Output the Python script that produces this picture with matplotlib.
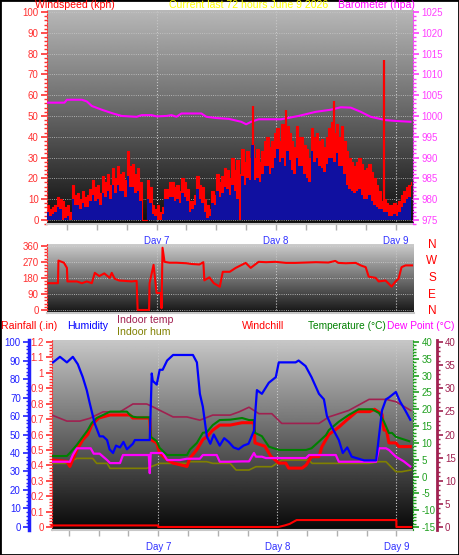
import numpy as np
import matplotlib.pyplot as plt
from matplotlib.patches import Rectangle
from matplotlib.ticker import MultipleLocator, FormatStrFormatter

plt.rcParams['font.family'] = ['Liberation Sans', 'DejaVu Sans']

# ---- data (time in hours, 0 = start of Day 7) ----
day_ticks = [0, 24, 48]
day_labels = ['Day 7', 'Day 8', 'Day 9']

wind_hours = np.arange(-22, 51.01, 0.5)
gust_kph = [7, 5, 6, 7, 11, 10, 9, 6, 7, 4, 17, 12, 13, 10, 14, 11, 12, 15, 19, 16,
            17, 13, 21, 18, 22, 17, 25, 20, 26, 22, 23, 19, 33, 26, 27, 22, 25, 18, 0, 0,
            19, 16, 7, 5, 7, 4, 6, 15, 15, 18, 18, 16, 17, 14, 20, 18, 15, 9, 9, 12,
            21, 17, 16, 10, 7, 5, 14, 12, 22, 18, 21, 25, 24, 20, 30, 24, 29, 22, 34, 28,
            33, 30, 36, 30, 34, 28, 33, 38, 40, 35, 38, 42, 44, 38, 46, 40, 45, 42, 38, 35,
            45, 40, 40, 36, 34, 30, 44, 40, 42, 38, 39, 35, 40, 44, 47, 42, 46, 40, 45, 38,
            33, 30, 28, 26, 28, 30, 27, 24, 25, 27, 23, 20, 17, 14, 9, 10, 8, 7, 7, 8,
            7, 9, 12, 14, 16, 17, 18]
avg_kph = [4, 2, 3, 4, 6, 5, 0, 1, 2, 0, 10, 7, 7, 5, 8, 6, 6, 9, 12, 9,
           10, 7, 13, 11, 14, 10, 17, 13, 17, 14, 14, 11, 21, 16, 16, 13, 14, 9, 0, 0,
           10, 8, 3, 2, 0, 0, 3, 10, 10, 11, 11, 9, 10, 8, 13, 11, 9, 4, 5, 7,
           15, 10, 8, 4, 1, 2, 8, 7, 14, 11, 13, 16, 15, 12, 17, 14, 10, 0, 21, 17,
           20, 19, 36, 19, 20, 18, 22, 26, 26, 22, 25, 30, 34, 28, 30, 26, 33, 29, 24, 22,
           30, 26, 26, 22, 20, 18, 33, 28, 30, 26, 25, 23, 27, 30, 30, 28, 32, 26, 26, 22,
           17, 15, 14, 13, 14, 15, 12, 10, 10, 12, 9, 7, 6, 5, 5, 4, 4, 2, 2, 3,
           2, 4, 6, 8, 10, 11, 12]
spike_t = [19.3, 25.9, 35.7, 45.6]
spike_base_kph = [36, 33, 30, 4]
spike_kph = [55, 53, 57, 77]

baro_t = [-22, -18.5, -18, -15, -14, -13, -11, -9, -7, -4, -3, -1, 0, 2, 3, 4, 5, 9,
          10, 12, 14.5, 17, 18, 19, 20.5, 25, 28.5, 32, 35, 37, 39, 41, 43, 46, 48, 51]
baro_hpa = [1003.2, 1003.2, 1003.9, 1003.9, 1003.5, 1002.4, 1001.5, 1000.7, 1000.0, 999.8,
            1000.2, 1000.2, 999.9, 1000.0, 1000.2, 999.8, 1000.6, 1000.6, 999.8, 999.5,
            999.3, 998.6, 998.0, 998.6, 999.2, 999.2, 1000.0, 1001.0, 1001.5, 1002.1,
            1002.0, 1001.0, 999.8, 999.0, 998.8, 998.6]

dir_t = [-21.8, -19.8, -19.7, -18.6, -18.0, -17.9, -16, -15, -14, -13, -12.4, -11.5, -10.5,
         -9.4, -9.0, -8.4, -7.5, -6.4, -5, -4.0, -3.8, -1.5, -1.4, -0.6, 0.0, 0.9, 1.0, 1.2,
         1.6, 2.6, 4, 6, 7, 8.6, 9.4, 9.6, 10.6, 11.5, 12.7, 13.3, 14.7, 15.9, 17.9, 18.9,
         20.5, 22, 23.9, 26, 27.9, 30, 32, 34.5, 35.9, 36.5, 38, 40, 41, 42, 42.6, 44, 44.6,
         46, 47.2, 48, 48.6, 49.2, 50, 51.3]
dir_deg = [150, 150, 277, 265, 236, 160, 160, 150, 160, 150, 208, 190, 205,
           180, 208, 175, 165, 163, 160, 163, 0, 0, 150, 253, 95, 95, 10, 349,
           270, 265, 265, 262, 258, 255, 268, 166, 183, 150, 130, 214, 214, 236, 264, 236,
           270, 268, 270, 264, 264, 266, 268, 266, 275, 264, 262, 264, 250, 240, 187, 180, 160,
           165, 131, 160, 175, 240, 250, 250]

hum_t = [-21.2, -19.8, -18.4, -17.2, -16.2, -15.2, -14.4, -13.8, -12.8, -11.8, -11.1, -10.3,
         -9.8, -9.1, -8.5, -7.7, -7.0, -6.3, -5.1, -4.7, -3.5, -2.1, -1.7, -1.3, -1.1, -0.3,
         0.3, 0.9, 1.8, 3.0, 5.0, 7.0, 7.8, 8.4, 9.0, 9.8, 10.5, 11.2, 12.4, 13.3, 14.2, 15.2,
         16.2, 17.2, 18.2, 19.3, 19.9, 20.9, 22.3, 23.7, 24.3, 26.0, 27.7, 28.3, 29.7, 30.9,
         32.4, 33.4, 34.0, 35.0, 36.4, 37.2, 38.1, 39.0, 41.5, 43.9, 44.1, 45.1, 45.9, 46.5,
         47.9, 48.7, 49.8, 50.8]
hum_pct = [89, 92, 89, 92, 88, 81, 74, 67, 56, 49, 49, 47, 42, 40, 44, 43, 46, 42, 45, 47,
           47, 47, 47, 83, 79, 77, 85, 85, 90, 93, 93, 93, 89, 72, 65, 49, 45, 50, 44, 48,
           46, 43, 42, 44, 45, 52, 74, 72, 78, 81, 89, 89, 89, 90, 87, 81, 72, 69, 60, 54,
           47, 40, 43, 38, 36, 36, 40, 63, 69, 70, 73, 68, 63, 58]

temp_t = [-21.2, -18.4, -17.8, -16.4, -15.2, -14.2, -13.4, -12.4, -11.1, -9.7, -6.3, -5.7,
          -5.1, -4.3, -1.7, -1.5, -0.3, 0.3, 1.8, 5.8, 6.4, 7.8, 9.0, 9.8, 11.0, 12.4, 14.5,
          16.9, 18.3, 19.3, 19.5, 20.9, 22.3, 24.3, 29.8, 30.9, 32.4, 33.8, 34.4, 36.4, 38.4,
          40.4, 43.1, 44.5, 45.5, 46.5, 47.1, 47.9, 50.6]
temp_c = [6.1, 6.1, 7.0, 9.4, 11.8, 13.8, 15.9, 17.4, 18.3, 19.3, 19.3, 18.3, 17.8, 17.6,
          17.6, 11.8, 10.5, 8.5, 6.4, 6.4, 8.0, 10.0, 13.0, 13.2, 15.3, 16.8, 16.9, 17.4,
          16.8, 16.8, 13.0, 12.0, 8.9, 7.9, 7.9, 8.4, 10.4, 12.3, 13.8, 16.3, 18.3, 20.0,
          20.0, 18.9, 16.3, 12.9, 13.0, 11.8, 10.5]

wc_t = [-21.2, -18.4, -17.8, -16.4, -15.2, -14.2, -13.4, -12.0, -9.7, -5.7, -5.1, -4.3,
        -1.7, -1.5, -0.3, 0.3, 1.8, 3.0, 5.8, 6.4, 7.8, 9.0, 9.8, 11.0, 12.4, 14.5, 16.9,
        18.3, 19.3, 19.5, 21.5, 22.7, 24.3, 25.7, 26.3, 29.0, 29.8, 30.9, 32.4, 33.0, 34.4,
        36.4, 38.0, 40.0, 42.6, 43.6, 45.1, 45.5, 46.0, 46.5, 47.9, 48.5, 50.8]
wc_c = [4.9, 4.5, 3.0, 7.9, 10.9, 12.5, 15.3, 17.4, 18.3, 18.3, 17.4, 17.4, 17.4, 11.0,
        10.0, 7.0, 5.0, 4.0, 3.0, 5.5, 8.0, 11.0, 11.8, 13.8, 15.3, 15.3, 16.0, 16.0, 16.0,
        10.0, 9.0, 6.0, 4.0, 4.0, 2.5, 2.5, 3.4, 5.9, 5.9, 8.9, 12.5, 14.7, 16.8, 19.3,
        19.3, 20.0, 18.5, 13.8, 13.8, 10.0, 10.0, 8.9, 8.9]

dp_t = [-21.2, -17.8, -17.2, -16.4, -13.6, -13.0, -11.8, -10.3, -9.7, -7.7, -7.1, -5.1,
        -4.3, -1.9, -1.7, -1.5, -1.1, 0.9, 1.8, 4.4, 5.8, 8.4, 9.0, 11.8, 12.4, 14.2, 16.9,
        18.3, 19.3, 19.7, 20.9, 21.7, 29.8, 30.4, 35.8, 36.4, 43.9, 44.5, 45.9, 46.5, 47.9,
        49.5, 50.8]
dp_c = [4.4, 4.4, 6.4, 8.4, 8.4, 6.8, 6.8, 4.9, 4.0, 4.0, 6.4, 6.4, 6.4, 6.4, 1.0, 7.0,
        7.0, 7.0, 4.9, 4.9, 5.3, 5.3, 6.4, 6.4, 4.4, 4.4, 4.5, 4.5, 7.0, 5.9, 5.9, 5.5,
        5.5, 6.4, 6.4, 4.4, 4.4, 8.4, 8.4, 7.9, 5.9, 4.5, 3.0]

in_temp_t = [-21.4, -18.4, -15.8, -13.8, -11.1, -7.7, -5.1, -2.3, -1.1, 3.0, 5.8, 8.4, 11.0,
             14.5, 16.3, 18.3, 20.3, 22.9, 24.9, 32.4, 34.4, 38.4, 42.5, 45.9, 47.9, 50.9]
in_temp_c = [24.2, 22.9, 22.9, 23.5, 24.9, 24.9, 26.6, 26.6, 26.0, 23.8, 23.8, 23.1, 24.2,
             24.2, 24.9, 25.9, 24.5, 24.5, 22.4, 22.4, 23.8, 25.2, 27.6, 27.6, 27.1, 25.2]

in_hum_t = [-21.2, -18.4, -16.4, -13.2, -12.4, -10.3, -9.7, -2.3, 0.3, 5.8, 6.4, 9.8, 11.0,
            14.5, 15.7, 18.3, 19.7, 22.9, 24.9, 30.4, 31.0, 42.5, 44.5, 45.9, 47.9, 49.1, 50.9]
in_hum_pct = [34.4, 34.4, 37.1, 37.1, 34.4, 34.4, 31.7, 31.7, 34.4, 34.4, 35.3, 35.3, 34.4,
              34.4, 30.8, 30.8, 32.6, 32.6, 36.2, 36.2, 34.4, 34.4, 35.3, 35.3, 29.9, 29.9, 30.8]

rain_t = [-21.5, 0.0, 0.0, 24.2, 25.5, 26.5, 27.9, 48.0, 48.0, 51.0]
rain_in = [0.01, 0.01, 0.0, 0.0, 0.01, 0.02, 0.045, 0.045, 0.0, 0.0]

# ---- layout helpers ----
W, H = 459, 555
fig = plt.figure(figsize=(W / 100, H / 100), dpi=100)
fig.patch.set_facecolor('white')
FS = 7.6


def box(x0, y0, x1, y1):
    return [x0 / W, 1 - y1 / H, (x1 - x0) / W, (y1 - y0) / H]


def shade(ax, top=0.75, bottom=0.04):
    grad = np.linspace(top, bottom, 256).reshape(-1, 1)
    ax.imshow(grad, cmap='gray', vmin=0, vmax=1, aspect='auto',
              extent=(0, 1, 0, 1), transform=ax.transAxes, zorder=0)


def time_axis(ax, xlim, labels=True, color='#3030ff'):
    ax.set_xlim(*xlim)
    ax.set_xticks(day_ticks)
    ax.set_xticklabels(day_labels if labels else [])
    ax.xaxis.set_minor_locator(MultipleLocator(6))
    ax.tick_params(axis='x', which='both', colors='#b0b0b0', length=4, width=1,
                   labelcolor=color, labelsize=7, pad=5)
    ax.grid(axis='x', which='major', color='#c8c8c8', linestyle=':', linewidth=0.8)
    for s in ['top', 'right', 'left']:
        ax.spines[s].set_visible(False)
    ax.spines['bottom'].set_color('#c8c8c8')
    ax.spines['bottom'].set_linewidth(1.5)


def yaxis_style(ax, side, color, major, minor, fmt='%g', size=7):
    ax.yaxis.set_major_locator(MultipleLocator(major))
    ax.yaxis.set_minor_locator(MultipleLocator(minor))
    ax.yaxis.set_major_formatter(FormatStrFormatter(fmt))
    ax.tick_params(axis='y', which='major', colors=color, length=4, width=1.2,
                   labelsize=size, pad=2)
    ax.tick_params(axis='y', which='minor', colors=color, length=2, width=1)
    ax.spines[side].set_visible(True)
    ax.spines[side].set_color(color)


# ---- panel 1: wind speed + barometer ----
ax1 = fig.add_axes(box(47, 10, 413, 224))
shade(ax1, 0.72, 0.05)
ax1.fill_between(wind_hours, gust_kph, step='post', color='#ff0000', lw=0, zorder=2)
ax1.plot(wind_hours, gust_kph, drawstyle='steps-post', color='#ff0000', lw=0.8, zorder=2)
ax1.fill_between(wind_hours, avg_kph, step='post', color='#1010a0', lw=0, zorder=3)
ax1.set_ylim(-2, 101)
ax1.grid(axis='y', color='#c8c8c8', linestyle=':', linewidth=0.6)
time_axis(ax1, (-22.0, 51.5))
yaxis_style(ax1, 'left', '#ff3030', 10, 2)
ax1.spines['left'].set_linestyle(':')

ax1r = ax1.twinx()
ax1r.plot(baro_t, baro_hpa, color='#ff00ff', lw=1.5, zorder=2)
ax1r.set_ylim(974, 1025.5)
for s in ['top', 'left', 'bottom']:
    ax1r.spines[s].set_visible(False)
yaxis_style(ax1r, 'right', '#ff40ff', 5, 1)
ax1r.spines['right'].set_linestyle(':')

# narrow gust spikes drawn over the barometer line, on the kph scale
ax1s = ax1.twinx()
ax1s.vlines(spike_t, spike_base_kph, spike_kph, color='#ff0000', lw=1.6)
ax1s.set_ylim(-2, 101)
ax1s.axis('off')

fig.text(35 / W, 1 - 5 / H, 'Windspeed (kph)', color='#ff0000', fontsize=FS, va='center')
fig.text(249 / W, 1 - 5 / H, 'Current last 72 hours June 9 2026', color='#ffff00',
         fontsize=FS, va='center', ha='center')
fig.text(338 / W, 1 - 5 / H, 'Barometer (hpa)', color='#ff00ff', fontsize=FS, va='center')

# ---- panel 2: wind direction ----
ax2 = fig.add_axes(box(47, 244, 414, 313))
shade(ax2, 0.8, 0.08)
ax2.plot(dir_t, dir_deg, color='#ff0000', lw=1.5, zorder=3)
ax2.set_ylim(-17, 370)
ax2.grid(axis='y', color='#d0d0d0', linestyle=':', linewidth=0.6)
time_axis(ax2, (-22.0, 51.7), labels=False)
ax2.tick_params(axis='x', which='both', length=0)
yaxis_style(ax2, 'left', '#ff3030', 90, 18)
ax2.spines['left'].set_linestyle(':')

for y, letter in zip([245, 261, 278, 295, 311], ['N', 'W', 'S', 'E', 'N']):
    fig.text(432 / W, 1 - y / H, letter, color='#ff0000', fontsize=8.5,
             ha='center', va='center')

# ---- panel 3: temperatures, humidity, rain ----
ax3 = fig.add_axes(box(52, 340, 413, 530))
shade(ax3, 0.78, 0.03)
ax3.plot(rain_t, rain_in, color='#ff0000', lw=1.5, zorder=3, clip_on=False)
ax3.set_ylim(-0.0196, 1.2132)
time_axis(ax3, (-21.4, 51.35))
yaxis_style(ax3, 'left', '#ff3030', 0.1, 0.02)
ax3.spines['left'].set_linestyle(':')

axd = ax3.twinx()
axd.plot(in_temp_t, in_temp_c, color='#a02050', lw=1.2)
axd.set_ylim(-0.65, 40.44)
for s in ['top', 'left', 'bottom']:
    axd.spines[s].set_visible(False)
axd.spines['right'].set_position(('outward', 17))
yaxis_style(axd, 'right', '#a02050', 5, 1)
axd.spines['right'].set_linewidth(2)

axh = ax3.twinx()
axh.plot(in_hum_t, in_hum_pct, color='#808000', lw=1.2)
axh.set_ylim(-1.64, 101.1)
axh.set_yticks([])
for s in axh.spines.values():
    s.set_visible(False)

axt = ax3.twinx()
axt.plot(wc_t, wc_c, color='#ff0000', lw=2.2)
axt.plot(dp_t, dp_c, color='#ff00ff', lw=1.6)
axt.plot(temp_t, temp_c, color='#008000', lw=1.5)
axt.set_ylim(-15.9, 40.6)
for s in ['top', 'left', 'bottom']:
    axt.spines[s].set_visible(False)
yaxis_style(axt, 'right', '#20a020', 5, 1)
axt.spines['right'].set_linestyle(':')

axh2 = ax3.twinx()
axh2.plot(hum_t, hum_pct, color='#0000ff', lw=1.6)
axh2.set_ylim(-1.64, 101.1)
for s in ['top', 'right', 'bottom']:
    axh2.spines[s].set_visible(False)
axh2.yaxis.set_ticks_position('left')
axh2.spines['left'].set_position(('outward', 16.5))
yaxis_style(axh2, 'left', '#2020ff', 10, 2)
axh2.spines['left'].set_linewidth(2.5)

fig.text(1 / W, 1 - 326 / H, 'Rainfall (.in)', color='#ff0000', fontsize=FS, va='center')
fig.text(67 / W, 1 - 326 / H, 'Humidity', color='#0000ff', fontsize=FS, va='center')
fig.text(117 / W, 1 - 320 / H, 'Indoor temp', color='#a02050', fontsize=FS, va='center')
fig.text(117 / W, 1 - 332 / H, 'Indoor hum', color='#808000', fontsize=FS, va='center')
fig.text(242 / W, 1 - 326 / H, 'Windchill', color='#ff0000', fontsize=FS, va='center')
fig.text(386 / W, 1 - 326 / H, 'Temperature (°C)', color='#008000', fontsize=7.3,
         va='center', ha='right')
fig.text(387 / W, 1 - 326 / H, 'Dew Point (°C)', color='#ff00ff', fontsize=7.3, va='center')

fig.patches.append(Rectangle((0, 0), 1, 1, transform=fig.transFigure, fill=False,
                             edgecolor='black', lw=2))

fig.savefig('out.png', dpi=100)
